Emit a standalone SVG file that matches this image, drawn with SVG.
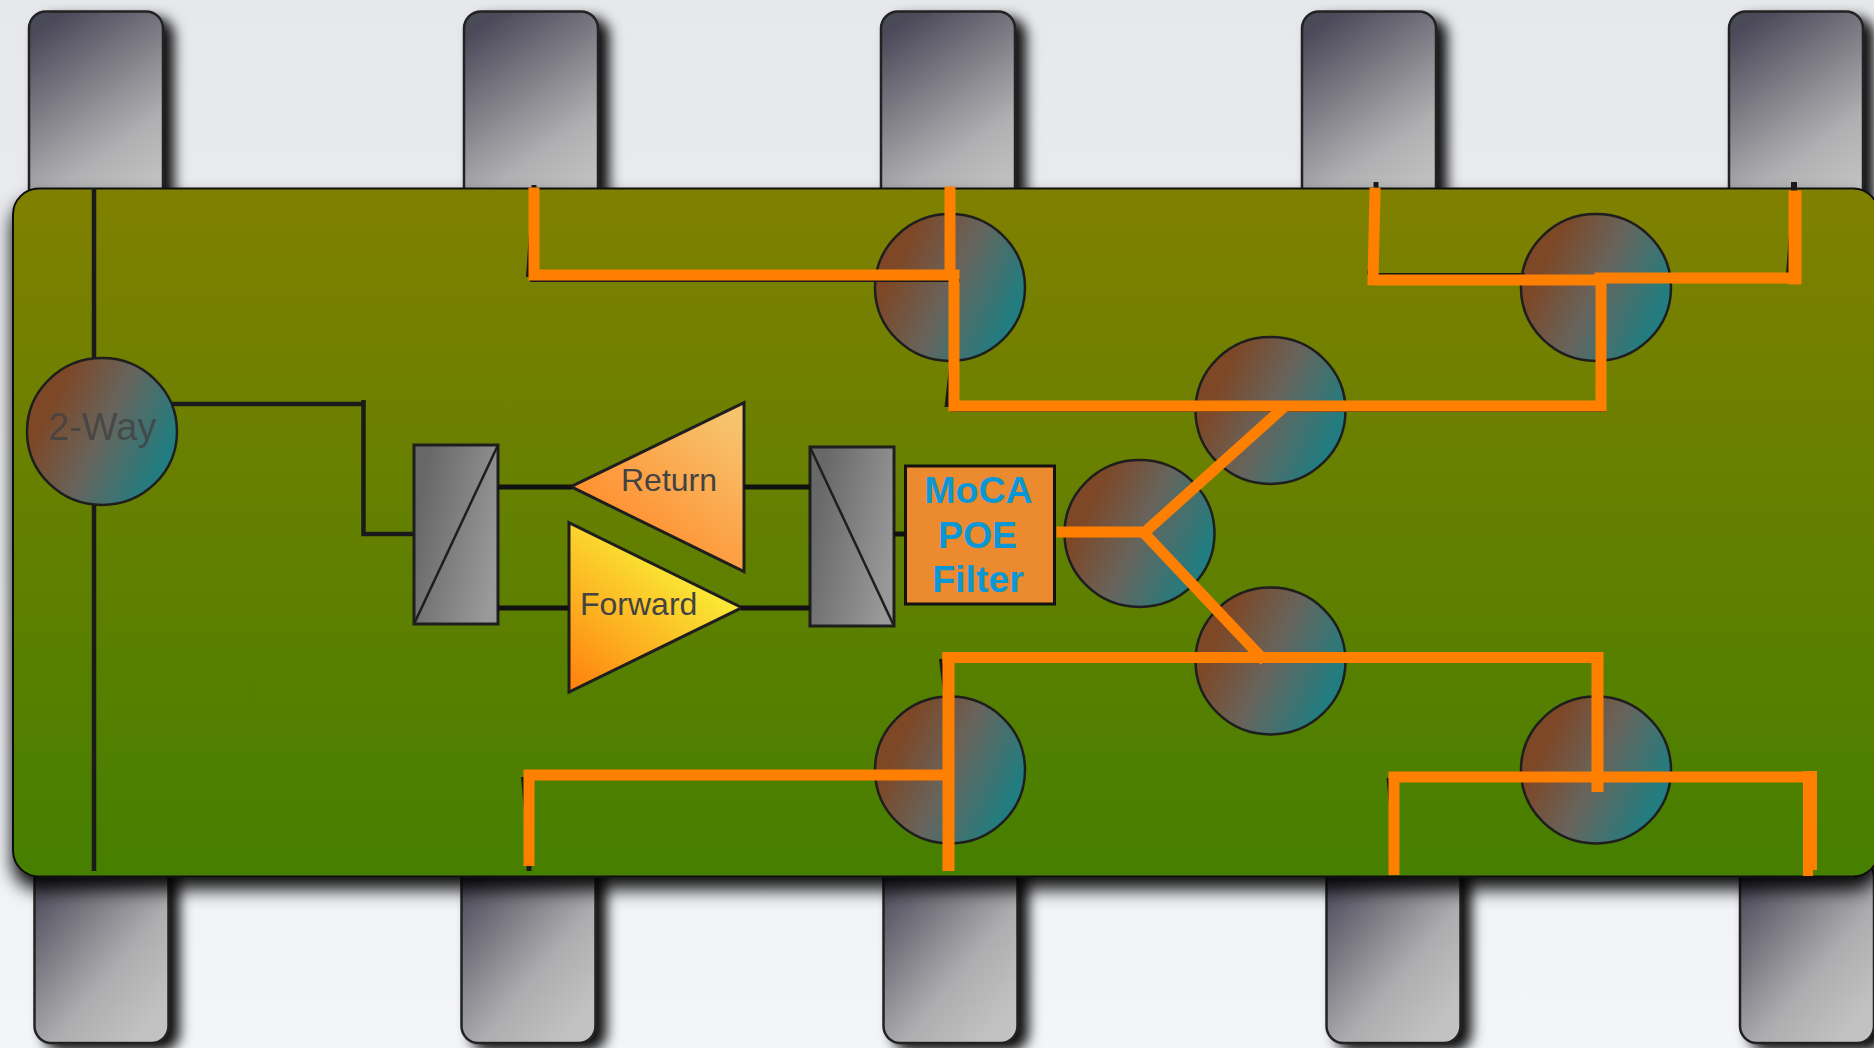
<svg xmlns="http://www.w3.org/2000/svg" width="1874" height="1048" viewBox="0 0 1874 1048">
<style>
.tab{fill:url(#gTab);stroke:#222;stroke-width:2.5;filter:url(#sh)}
.tabb{fill:url(#gTabB);stroke:#222;stroke-width:2.5;filter:url(#sh)}
.hub{fill:url(#gHub);stroke:#1e1e1e;stroke-width:2.5}
.split{fill:url(#gSplit);stroke:#1e1e1e;stroke-width:3}
.diag{fill:none;stroke:#1e1e1e;stroke-width:2.5}
.blk{fill:none;stroke:#1a1a1a;stroke-width:4.500}
.blk2{fill:none;stroke:#111;stroke-width:5}
.wedge{fill:#1a1a1a;stroke:none}
.org{fill:none;stroke:#ff8000;stroke-width:11;stroke-linecap:square;stroke-linejoin:miter}
text{font-family:"Liberation Sans",Arial,sans-serif}
.lbl{fill:#434343;font-size:32px}
.moca{fill:#0a97d6;font-size:37.500px;font-weight:bold;text-anchor:middle}
</style>
<defs>
<linearGradient id="gBg" x1="0" y1="0" x2="0" y2="1"><stop offset="0" stop-color="#e6e8ec"/><stop offset="1" stop-color="#f3f5f9"/></linearGradient>
<linearGradient id="gBody" x1="0" y1="0" x2="0" y2="1"><stop offset="0" stop-color="#808000"/><stop offset="1" stop-color="#467f00"/></linearGradient>
<linearGradient id="gTab" x1=".25" y1="0" x2=".72" y2="1"><stop offset="0" stop-color="#4a4858"/><stop offset=".72" stop-color="#b0b0b2"/><stop offset="1" stop-color="#c2c2c2"/></linearGradient>
<linearGradient id="gTabB" x1=".05" y1=".08" x2=".8" y2=".95"><stop offset="0" stop-color="#4a4858"/><stop offset=".65" stop-color="#adadaf"/><stop offset="1" stop-color="#c2c2c2"/></linearGradient>
<linearGradient id="gHub" x1=".05" y1=".3" x2=".95" y2=".72"><stop offset=".1" stop-color="#7e4726"/><stop offset=".5" stop-color="#67645c"/><stop offset=".95" stop-color="#217d80"/></linearGradient>
<linearGradient id="gSplit" x1="0" y1=".2" x2="1" y2=".6"><stop offset=".1" stop-color="#686868"/><stop offset="1" stop-color="#999"/></linearGradient>
<linearGradient id="gRet" x1=".2" y1=".9" x2=".9" y2=".05"><stop offset=".2" stop-color="#ff9233"/><stop offset="1" stop-color="#f6c46f"/></linearGradient>
<linearGradient id="gFwd" x1=".1" y1="1" x2=".65" y2=".3"><stop offset="0" stop-color="#ff8510"/><stop offset="1" stop-color="#fae634"/></linearGradient>
<filter id="sh" x="-30%" y="-30%" width="170%" height="170%"><feDropShadow dx="10" dy="7" stdDeviation="6.500" flood-color="#000" flood-opacity=".95"/></filter>
<filter id="shB" x="-5%" y="-5%" width="110%" height="115%"><feDropShadow dx="0" dy="12" stdDeviation="9" flood-color="#000" flood-opacity=".95"/></filter>
</defs>
<rect width="1874" height="1048" fill="url(#gBg)"/>
<g id="tabs-top">
<rect id="tab-t1" class="tab" x="29" y="11.500" width="134" height="195" rx="17"/>
<rect id="tab-t2" class="tab" x="464" y="11.500" width="134" height="195" rx="17"/>
<rect id="tab-t3" class="tab" x="881" y="11.500" width="134" height="195" rx="17"/>
<rect id="tab-t4" class="tab" x="1302" y="11.500" width="134" height="195" rx="17"/>
<rect id="tab-t5" class="tab" x="1729" y="11.500" width="134" height="195" rx="17"/>
</g>
<g id="tabs-bottom">
<rect id="tab-b1" class="tabb" x="34.500" y="860" width="134" height="183" rx="17"/>
<rect id="tab-b2" class="tabb" x="461.500" y="860" width="134" height="183" rx="17"/>
<rect id="tab-b3" class="tabb" x="883.500" y="860" width="134" height="183" rx="17"/>
<rect id="tab-b4" class="tabb" x="1326.500" y="860" width="134" height="183" rx="17"/>
<rect id="tab-b5" class="tabb" x="1740" y="860" width="134" height="183" rx="17"/>
</g>
<g id="board"><rect x="13" y="188.500" width="1866" height="688" rx="26" fill="url(#gBody)" stroke="#111" stroke-width="2" filter="url(#shB)"/></g>
<g id="node-2way"><ellipse class="hub" cx="102" cy="431.500" rx="75" ry="73.500"/><text class="lbl" x="48" y="439.500" style="font-size:38px;fill-opacity:.85">2-Way</text></g>
<g id="node-hub1"><ellipse class="hub" cx="950" cy="287.500" rx="75" ry="73.500"/></g>
<g id="node-hub2"><ellipse class="hub" cx="1596" cy="287.500" rx="75" ry="73.500"/></g>
<g id="node-hub3"><ellipse class="hub" cx="1270.500" cy="410.500" rx="75" ry="73.500"/></g>
<g id="node-hub4"><ellipse class="hub" cx="1139.500" cy="533.500" rx="75" ry="73.500"/></g>
<g id="node-hub5"><ellipse class="hub" cx="1270.500" cy="661" rx="75" ry="73.500"/></g>
<g id="node-hub6"><ellipse class="hub" cx="950" cy="770" rx="75" ry="73.500"/></g>
<g id="node-hub7"><ellipse class="hub" cx="1596" cy="770" rx="75" ry="73.500"/></g>
<g id="node-split-left"><rect class="split" x="414" y="445" width="84" height="179"/><path class="diag" d="M414 624L498 445"/></g>
<g id="node-split-right"><rect class="split" x="810" y="447" width="84" height="179"/><path class="diag" d="M810 447L894 626"/></g>
<g id="node-return"><path d="M571 486.700L744 402.700V571.700Z" fill="url(#gRet)" stroke="#1e1e1e" stroke-width="3"/><text class="lbl" x="621" y="491">Return</text></g>
<g id="node-forward"><path d="M569 522.700V692L742 607.700Z" fill="url(#gFwd)" stroke="#1e1e1e" stroke-width="3"/><text class="lbl" x="580" y="615">Forward</text></g>
<g id="node-filter"><rect x="905.500" y="466" width="149" height="138" fill="#ec8a30" stroke="#111" stroke-width="3"/><text class="moca" x="978.500" y="503">MoCA</text><text class="moca" x="977.500" y="548">POE</text><text class="moca" x="978" y="592">Filter</text></g>
<g id="connectors">
<path class="blk" d="M94 188V358M94 505V871M172 404H363.500V534H414"/>
<path class="blk" d="M363.500 400V404"/>
<path class="blk2" d="M498 487H572M744 487H810M894 534H905"/>
<path class="blk2" d="M498 608H569M741 608H810"/>
<path class="wedge" d="M526 277L529.500 225V277ZM944.500 407L950 358V407ZM1367 274L1370 258V274ZM1786 275L1790 220V275ZM939 659L944 659V700ZM521 777H526V832ZM1386.500 778H1390V815Z"/>
<path class="wedge" d="M531.500 185H536.500V192H531.500ZM1373.500 182H1378.500V192H1373.500ZM1791 182H1797V192H1791ZM526.500 862H531.500V871H526.500ZM530 279H960V282H530ZM950 409H1606V412H950ZM1370 273H1525V275H1370ZM1670 273H1787V275H1670Z"/>
<path class="org" d="M534 193V275H950M950 192V275M954 275V406H1601M1601 406V279M1375 193L1373 280M1378 280H1601M1600 278H1795"/>
<path class="org" style="stroke-width:13" d="M1795 197V278"/>
<path class="org" d="M1062 532H1145L1283 408M1145 534L1261 657"/>
<path class="org" d="M948 657.500H1597"/>
<path class="org" style="stroke-width:12;stroke-linecap:butt" d="M948.500 652V871M1597.500 652V792"/>
<path class="org" style="stroke-linecap:butt" d="M529 866V775H948M1394 875V777H1814"/>
<path class="org" style="stroke-width:14;stroke-linecap:butt" d="M1810 771V870"/>
<path class="org" style="stroke-width:10;stroke-linecap:butt" d="M1808 865V876"/>
</g>
</svg>
